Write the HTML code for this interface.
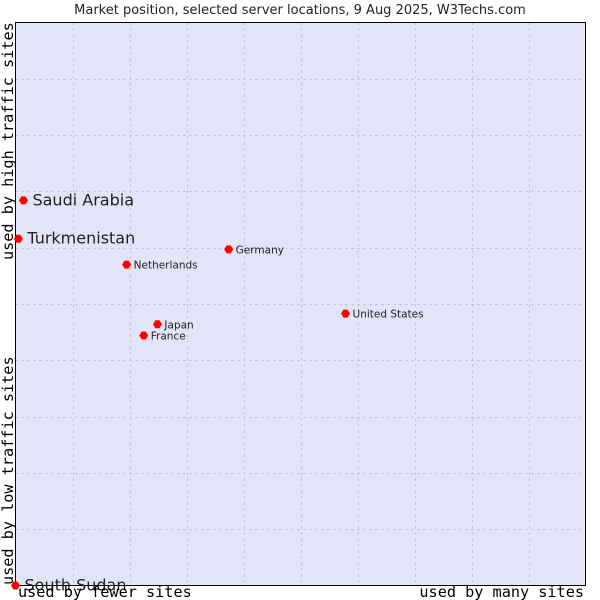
<!DOCTYPE html>
<html><head><meta charset="utf-8"><style>
body{margin:0;background:#fff;}
svg{display:block;}
</style></head><body>
<svg id="chart" width="600" height="600" xmlns="http://www.w3.org/2000/svg">
<text x="300" y="14" text-anchor="middle" font-family="DejaVu Sans, Liberation Sans, sans-serif" font-size="13" fill="#222">Market position, selected server locations, 9 Aug 2025, W3Techs.com</text>
<rect x="15.5" y="22.5" width="570" height="563" fill="#e3e4f8" stroke="none"/>
<g id="grid"></g>
<rect x="15.5" y="22.5" width="570" height="563" fill="none" stroke="#000" stroke-width="1"/>
<g id="points"></g>
<text x="18" y="597" font-family="DejaVu Sans Mono, Liberation Mono, monospace" font-size="15.2" fill="#000">used by fewer sites</text>
<text x="584" y="597" text-anchor="end" font-family="DejaVu Sans Mono, Liberation Mono, monospace" font-size="15.2" fill="#000">used by many sites</text>
<text transform="translate(13,585) rotate(-90)" font-family="DejaVu Sans Mono, Liberation Mono, monospace" font-size="15.2" fill="#000">used by low traffic sites</text>
<text transform="translate(13,260) rotate(-90)" font-family="DejaVu Sans Mono, Liberation Mono, monospace" font-size="15.2" fill="#000">used by high traffic sites</text>
</svg>
<script>
const countries=["Saudi Arabia","Turkmenistan","Netherlands","Germany","United States","Japan","France","South Sudan"];
const xValues=[1.4,0.5,19.5,37.4,57.9,24.9,22.5,0];
const yValues=[68.4,61.6,57.0,59.7,48.3,46.4,44.4,0];
const bigLabel=[true,true,false,false,false,false,false,true];
const gridTicks=[10,20,30,40,50,60,70,80,90];
const NS="http://www.w3.org/2000/svg";
const L=15.5,R=585.5,T=22.5,B=585.5;
function sx(v){return L+(R-L)*v/100;}
function sy(v){return B-(B-T)*v/100;}
const grid=document.getElementById('grid');
gridTicks.forEach(t=>{
  const v=document.createElementNS(NS,'line');
  v.setAttribute('x1',Math.round(sx(t))+0.5);v.setAttribute('x2',Math.round(sx(t))+0.5);
  v.setAttribute('y1',T);v.setAttribute('y2',B);
  v.setAttribute('stroke','#bcbcc8');v.setAttribute('stroke-dasharray','2,4');
  
  
  grid.appendChild(v);
  const h=document.createElementNS(NS,'line');
  h.setAttribute('y1',Math.round(sy(t))+0.5);h.setAttribute('y2',Math.round(sy(t))+0.5);
  h.setAttribute('x1',L);h.setAttribute('x2',R);
  h.setAttribute('stroke','#bcbcc8');h.setAttribute('stroke-dasharray','2,4');
  
  
  grid.appendChild(h);
});
const pts=document.getElementById('points');
countries.forEach((c,i)=>{
  const x=sx(xValues[i]),y=sy(yValues[i]);
  const d=document.createElementNS(NS,'polygon');
  d.setAttribute('points',`${x-4.5},${y} ${x-2},${y-4} ${x+2},${y-4} ${x+4.5},${y} ${x+2},${y+4} ${x-2},${y+4}`);
  d.setAttribute('fill','#f00');
  
  
  pts.appendChild(d);
  const t=document.createElementNS(NS,'text');
  const big=bigLabel[i];
  t.setAttribute('x',x+(big?9:7));
  t.setAttribute('y',y+(big?5:4));
  t.setAttribute('font-family','DejaVu Sans, Liberation Sans, sans-serif');
  t.setAttribute('font-size',big?'16':'10.5');
  t.setAttribute('fill','#222');
  t.textContent=c;
  
  
  pts.appendChild(t);
});
</script>
</body></html>
